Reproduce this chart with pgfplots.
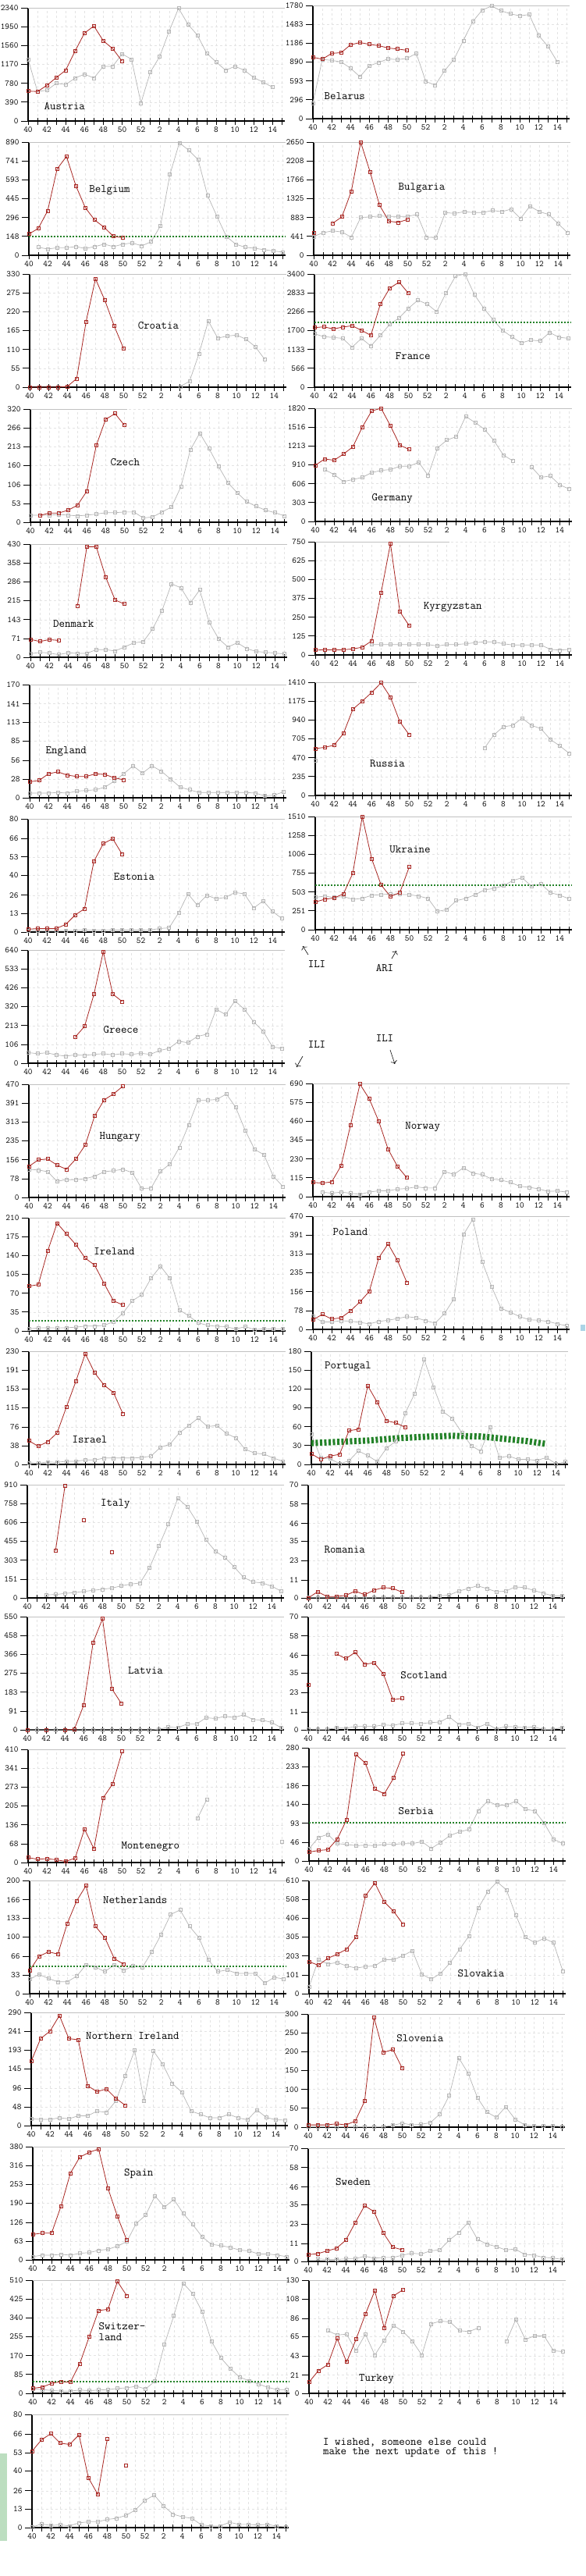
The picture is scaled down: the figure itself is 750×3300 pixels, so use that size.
\documentclass[border=0pt]{standalone}
\usepackage{pgfplots}
\pgfplotsset{compat=1.18}
\usetikzlibrary{arrows.meta}
\definecolor{curc}{RGB}{168,38,34}
\definecolor{prevc}{RGB}{182,182,182}
\definecolor{thrc}{RGB}{35,130,40}
\newcommand{\tickfont}{\fontsize{11}{11}\selectfont\ttfamily}
\newcommand{\labfont}{\fontsize{14.5}{14}\selectfont\ttfamily}
\pgfplotsset{
 pan/.style={
  scale only axis, width=329pt, height=145pt, anchor=north west,
  xmin=0, xmax=27.3, ymin=0,
  axis lines=left, axis line style={-, line width=1.1pt, black},
  xtick={0,2,...,26}, xticklabels={40,42,44,46,48,50,52,2,4,6,8,10,12,14},
  minor xtick={1,3,...,27},
  xtick align=center, ytick align=outside,
  major tick length=9pt, minor tick length=9pt,
  tick style={black, line width=0.9pt},
  xmajorgrids, xminorgrids, ymajorgrids,
  major grid style={gray!22, dash pattern=on 3pt off 3pt, line width=0.5pt},
  minor grid style={gray!22, dash pattern=on 3pt off 3pt, line width=0.5pt},
  clip=false, scaled y ticks=false, unbounded coords=jump,
  /pgf/number format/1000 sep={},
  /pgf/number format/assume math mode=true,
  tick label style={font=\tickfont},
 },
 cur/.style={curc, line width=0.8pt, mark=square, mark size=2pt, mark options={solid, line width=0.8pt}},
 prev/.style={prevc, line width=0.7pt, mark=square, mark size=2pt, mark options={solid, line width=0.6pt}},
 thr/.style={thrc, no marks, line width=1.8pt, dash pattern=on 1.6pt off 2.4pt},
 band/.style={thrc, no marks, line width=8pt, dash pattern=on 3pt off 2.5pt},
}
\tikzset{lab/.style={anchor=west, font=\labfont, inner sep=0pt},
 topl/.style={prevc!85, line width=0.7pt}}
\newcommand{\topfull}{\draw[topl] (rel axis cs:0,1)--(rel axis cs:1,1);}
\begin{document}
\begin{tikzpicture}
\fill[white] (0pt,0pt) rectangle (750pt,-3300pt);
\path[use as bounding box] (0pt,0pt) rectangle (750pt,-3300pt);

% ---------- Row 1
\begin{axis}[pan,at={(36pt,-10pt)},ymax=2340,ytick={0,390,780,1170,1560,1950,2340}]
\topfull
\addplot[prev] coordinates {(0,1275)(1,610)(2,635)(3,780)(4,753)(5,888)(6,968)(7,888)(8,1130)(9,1130)(10,1388)(11,1275)(12,371)(13,1011)(14,1334)(15,1856)(16,2330)(17,2001)(18,1775)(19,1399)(20,1221)(21,1049)(22,1130)(23,1049)(24,898)(25,801)(26,699)};
\addplot[cur] coordinates {(0,619)(1,608)(2,737)(3,898)(4,1049)(5,1447)(6,1818)(7,1963)(8,1657)(9,1495)(10,1237)};
\node[lab] at (axis cs:1.7,300) {Austria};
\end{axis}
\begin{axis}[pan,at={(401pt,-7pt)},ymax=1780,ytick={0,296,593,890,1186,1483,1780}]
\topfull
\addplot[prev] coordinates {(0,245)(1,932)(2,916)(3,892)(4,794)(5,659)(6,831)(7,884)(8,940)(9,928)(10,948)(11,1026)(12,586)(13,526)(14,753)(15,932)(16,1229)(17,1527)(18,1707)(19,1771)(20,1697)(21,1649)(22,1617)(23,1637)(24,1311)(25,1136)(26,892)};
\addplot[cur] coordinates {(0,965)(1,936)(2,1026)(3,1038)(4,1161)(5,1197)(6,1169)(7,1148)(8,1111)(9,1095)(10,1075)};
\node[lab] at (axis cs:1.2,358) {Belarus};
\end{axis}

% ---------- Row 2
\begin{axis}[pan,at={(37pt,-182pt)},ymax=890,ytick={0,148,296,445,593,741,890}]
\topfull
\addplot[prev] coordinates {(1,63)(2,49)(3,59)(4,59)(5,68)(6,53)(7,68)(8,87)(9,68)(10,87)(11,97)(12,74)(13,106)(14,233)(15,635)(16,884)(17,826)(18,751)(19,470)(20,306)(21,148)(22,87)(23,63)(24,55)(25,44)(26,34)(27,25)};
\addplot[thr] coordinates {(0,145)(27.3,145)};
\addplot[cur] coordinates {(0,167)(1,211)(2,350)(3,678)(4,777)(5,546)(6,374)(7,277)(8,220)(9,148)(10,139)};
\node[lab] at (axis cs:6.4,510) {Belgium};
\end{axis}
\begin{axis}[pan,at={(402pt,-182pt)},ymax=2650,ytick={0,441,883,1325,1766,2208,2650}]
\topfull
\addplot[prev] coordinates {(0,441)(1,527)(2,573)(3,544)(4,424)(5,883)(6,900)(7,920)(8,910)(9,910)(10,910)(11,955)(12,424)(13,413)(14,1000)(15,980)(16,1020)(17,1000)(18,1000)(19,1050)(20,1020)(21,1080)(22,860)(23,1150)(24,1020)(25,955)(26,740)(27,527)};
\addplot[cur] coordinates {(0,527)(1,nan)(2,745)(3,900)(4,1495)(5,2650)(6,1949)(7,1173)(8,797)(9,769)(10,840)};
\node[lab] at (axis cs:9.0,1580) {Bulgaria};
\end{axis}

% ---------- Row 3
\begin{axis}[pan,at={(38pt,-351pt)},ymax=330,ytick={0,55,110,165,220,275,330}]
\topfull
\addplot[prev] coordinates {(16,2)(17,17)(18,97)(19,193)(20,143)(21,149)(22,152)(23,140)(24,118)(25,81)};
\addplot[cur] coordinates {(0,0)(1,0)(2,0)(3,0)(4,2)(5,25)(6,191)(7,316)(8,253)(9,178)(10,112)};
\node[lab] at (axis cs:11.5,180) {Croatia};
\end{axis}
\begin{axis}[pan,at={(403pt,-351pt)},ymax=3400,ytick={0,566,1133,1700,2266,2833,3400}]
\topfull
\addplot[prev] coordinates {(0,1603)(1,1518)(2,1493)(3,1467)(4,1200)(5,1467)(6,1235)(7,1556)(8,1886)(9,2080)(10,2371)(11,2614)(12,2493)(13,2266)(14,2833)(15,3335)(16,3400)(17,2784)(18,2371)(19,2024)(20,1708)(21,1510)(22,1330)(23,1415)(24,1390)(25,1644)(26,1500)(27,1467)};
\addplot[thr] coordinates {(0,1943)(27.3,1943)};
\addplot[cur] coordinates {(0,1789)(1,1813)(2,1749)(3,1805)(4,1846)(5,1708)(6,1556)(7,2493)(8,2971)(9,3157)(10,2817)};
\node[lab] at (axis cs:8.6,940) {France};
\end{axis}

% ---------- Row 4
\begin{axis}[pan,at={(39pt,-524pt)},ymax=320,ytick={0,53,106,160,213,266,320}]
\draw[topl] (axis cs:0,320)--(axis cs:10.3,320);
\addplot[prev] coordinates {(0,20)(1,20)(2,20)(3,22)(4,20)(5,18)(6,20)(7,23)(8,27)(9,27)(10,29)(11,29)(12,12)(13,15)(14,29)(15,43)(16,100)(17,204)(18,252)(19,208)(20,158)(21,112)(22,83)(23,58)(24,45)(25,34)(26,27)(27,18)};
\addplot[cur] coordinates {(1,19)(2,26)(3,26)(4,34)(5,48)(6,88)(7,217)(8,291)(9,307)(10,274)};
\node[lab] at (axis cs:8.5,170) {Czech};
\end{axis}
\begin{axis}[pan,at={(404pt,-523pt)},ymax=1820,ytick={0,303,606,910,1213,1516,1820}]
\topfull
\addplot[prev] coordinates {(1,834)(2,754)(3,642)(4,673)(5,709)(6,785)(7,821)(8,834)(9,888)(10,888)(11,953)(12,740)(13,1182)(14,1308)(15,1364)(16,1690)(17,1590)(18,1483)(19,1300)(20,1069)(21,975)(22,nan)(23,876)(24,709)(25,731)(26,588)(27,522)};
\addplot[cur] coordinates {(0,902)(1,1005)(2,984)(3,1083)(4,1200)(5,1516)(6,1777)(7,1820)(8,1537)(9,1226)(10,1157)};
\node[lab] at (axis cs:6.0,368) {Germany};
\end{axis}

% ---------- Row 5
\begin{axis}[pan,at={(39pt,-697pt)},ymax=430,ytick={0,71,143,215,286,358,430}]
\topfull
\addplot[prev] coordinates {(0,13)(1,19)(2,16)(3,10)(4,17)(5,15)(6,15)(7,29)(8,29)(9,24)(10,39)(11,55)(12,59)(13,108)(14,178)(15,279)(16,264)(17,206)(18,256)(19,133)(20,71)(21,39)(22,55)(23,33)(24,22)(25,19)(26,16)(27,13)};
\addplot[cur] coordinates {(0,68)(1,60)(2,67)(3,64)(4,nan)(5,196)(6,420)(7,420)(8,305)(9,218)(10,202)};
\node[lab] at (axis cs:2.4,128) {Denmark};
\end{axis}
\begin{axis}[pan,at={(404pt,-694pt)},ymax=750,ytick={0,125,250,375,500,625,750}]
\draw[topl] (axis cs:0,750)--(axis cs:14.3,750);
\addplot[prev] coordinates {(6,69)(7,69)(8,69)(9,69)(10,69)(11,69)(12,69)(13,59)(14,69)(15,69)(16,74)(17,81)(18,87)(19,87)(20,74)(21,66)(22,66)(23,66)(24,66)(25,37)(26,32)(27,37)};
\addplot[cur] coordinates {(0,32)(1,34)(2,34)(3,34)(4,40)(5,51)(6,93)(7,411)(8,738)(9,286)(10,193)};
\node[lab] at (axis cs:11.5,318) {Kyrgyzstan};
\end{axis}

% ---------- Row 6
\begin{axis}[pan,at={(38pt,-877pt)},ymax=170,ytick={0,28,56,85,113,141,170}]
\topfull
\addplot[prev] coordinates {(0,7)(1,7)(2,7)(3,8)(4,7)(5,10)(6,11)(7,12)(8,16)(9,25)(10,36)(11,48)(12,37)(13,48)(14,40)(15,28)(16,16)(17,12)(18,8)(19,8)(20,8)(21,8)(22,8)(23,8)(24,7)(25,3)(26,4)(27,9)};
\addplot[cur] coordinates {(0,24)(1,26)(2,36)(3,39)(4,34)(5,32)(6,32)(7,36)(8,35)(9,30)(10,27)};
\node[lab] at (axis cs:1.7,69) {England};
\end{axis}
\begin{axis}[pan,at={(404pt,-874pt)},ymax=1410,ytick={0,235,470,705,940,1175,1410}]
\draw[topl] (axis cs:0,1410)--(axis cs:10.8,1410);
\addplot[prev] coordinates {(0,439)};
\addplot[prev] coordinates {(18,590)(19,755)(20,856)(21,873)(22,963)(23,873)(24,832)(25,698)(26,618)(27,525)};
\addplot[cur] coordinates {(0,584)(1,599)(2,626)(3,772)(4,1074)(5,1175)(6,1283)(7,1403)(8,1224)(9,916)(10,755)};
\node[lab] at (axis cs:5.8,395) {Russia};
\end{axis}

% ---------- Row 7
\begin{axis}[pan,at={(36pt,-1049pt)},ymax=80,ytick={0,13,26,40,53,66,80}]
\topfull
\addplot[prev] coordinates {(0,1.2)(1,1.2)(2,1.2)(3,1.2)(4,1)(5,1.2)(6,1.4)(7,1.2)(8,1.2)(9,1.4)(10,1.4)(11,1.4)(12,1.4)(13,1.5)(14,2.5)(15,3)(16,13.5)(17,27)(18,19)(19,26)(20,23.5)(21,24.5)(22,28)(23,27)(24,17)(25,22)(26,14.5)(27,9.5)};
\addplot[cur] coordinates {(0,2)(1,2.5)(2,2.5)(3,2.5)(4,5.4)(5,12)(6,16.5)(7,50)(8,62.5)(9,66)(10,55)};
\node[lab] at (axis cs:9.1,39) {Estonia};
\end{axis}
\begin{axis}[pan,at={(404pt,-1046pt)},ymax=1510,ytick={0,251,503,755,1006,1258,1510}]
\topfull
\addplot[prev] coordinates {(0,431)(1,449)(2,431)(3,442)(4,406)(5,417)(6,460)(7,467)(8,478)(9,471)(10,467)(11,449)(12,417)(13,244)(14,269)(15,388)(16,417)(17,467)(18,532)(19,550)(20,586)(21,655)(22,694)(23,579)(24,611)(25,496)(26,460)(27,413)};
\addplot[thr] coordinates {(0,591)(27.3,591)};
\addplot[cur] coordinates {(0,370)(1,406)(2,424)(3,478)(4,755)(5,1510)(6,947)(7,598)(8,442)(9,496)(10,839)};
\node[lab] at (axis cs:7.9,1067) {Ukraine};
\end{axis}

% ---------- Row 8
\begin{axis}[pan,at={(36pt,-1217pt)},ymax=640,ytick={0,106,213,320,426,533,640}]
\topfull
\addplot[prev] coordinates {(0,60)(1,54)(2,59)(3,47)(4,40)(5,47)(6,44)(7,50)(8,54)(9,47)(10,54)(11,50)(12,56)(13,50)(14,72)(15,84)(16,124)(17,116)(18,151)(19,164)(20,305)(21,275)(22,352)(23,305)(24,233)(25,180)(26,92)(27,84)};
\addplot[cur] coordinates {(5,147)(6,208)(7,389)(8,631)(9,391)(10,349)};
\node[lab] at (axis cs:8.0,190) {Greece};
\end{axis}
\node[font=\labfont] at (406pt,-1235pt) {ILI};
\draw[-{To[length=4pt]}, line width=0.6pt] (395pt,-1223pt) -- (388pt,-1212pt);
\node[font=\labfont] at (493pt,-1240pt) {ARI};
\draw[-{To[length=4pt]}, line width=0.6pt] (502pt,-1228pt) -- (508pt,-1218pt);
\node[font=\labfont] at (406pt,-1338pt) {ILI};
\draw[-{To[length=4pt]}, line width=0.6pt] (388pt,-1353pt) -- (380pt,-1367pt);
\node[font=\labfont] at (493pt,-1330pt) {ILI};
\draw[-{To[length=4pt]}, line width=0.6pt] (500pt,-1345pt) -- (506pt,-1363pt);

% ---------- Row 9
\begin{axis}[pan,at={(37pt,-1389pt)},ymax=470,ytick={0,78,156,235,313,391,470}]
\topfull
\addplot[prev] coordinates {(0,117)(1,114)(2,107)(3,67)(4,74)(5,74)(6,78)(7,88)(8,107)(9,111)(10,117)(11,103)(12,37)(13,39)(14,108)(15,139)(16,208)(17,302)(18,404)(19,404)(20,407)(21,430)(22,374)(23,279)(24,200)(25,177)(26,88)(27,46)};
\addplot[cur] coordinates {(0,129)(1,156)(2,160)(3,134)(4,117)(5,160)(6,218)(7,339)(8,405)(9,430)(10,462)};
\node[lab] at (axis cs:7.5,251) {Hungary};
\end{axis}
\begin{axis}[pan,at={(401pt,-1388pt)},ymax=690,ytick={0,115,230,345,460,575,690}]
\topfull
\addplot[prev] coordinates {(1,28)(2,21)(3,28)(4,21)(5,14)(6,28)(7,36)(8,36)(9,46)(10,50)(11,60)(12,53)(13,53)(14,153)(15,136)(16,176)(17,143)(18,135)(19,108)(20,101)(21,87)(22,64)(23,57)(24,48)(25,32)(26,35)(27,28)};
\addplot[cur] coordinates {(0,87)(1,83)(2,90)(3,189)(4,436)(5,686)(6,596)(7,460)(8,289)(9,184)(10,115)};
\node[lab] at (axis cs:9.8,425) {Norway};
\end{axis}

% ---------- Row 10
\begin{axis}[pan,at={(37pt,-1560pt)},ymax=210,ytick={0,35,70,105,140,175,210}]
\topfull
\addplot[prev] coordinates {(0,4)(1,5.5)(2,6)(3,5.5)(4,6)(5,7)(6,9)(7,9)(8,10.5)(9,17)(10,33)(11,56)(12,67)(13,98)(14,120)(15,98)(16,39)(17,28)(18,15)(19,10.5)(20,8.5)(21,8)(22,3.5)(23,8)(24,2.5)(25,4)(26,3.5)(27,3.5)};
\addplot[thr] coordinates {(0,19.4)(27.3,19.4)};
\addplot[cur] coordinates {(0,83)(1,86)(2,148)(3,200)(4,180)(5,160)(6,135)(7,122)(8,88)(9,56)(10,48)};
\node[lab] at (axis cs:6.9,147) {Ireland};
\end{axis}
\begin{axis}[pan,at={(401pt,-1558pt)},ymax=470,ytick={0,78,156,235,313,391,470}]
\topfull
\addplot[prev] coordinates {(0,55)(1,31)(2,31)(3,36)(4,34)(5,29)(6,23)(7,33)(8,38)(9,45)(10,53)(11,48)(12,36)(13,26)(14,66)(15,127)(16,393)(17,457)(18,281)(19,178)(20,88)(21,71)(22,53)(23,40)(24,38)(25,33)(26,23)(27,15)};
\addplot[cur] coordinates {(0,40)(1,62)(2,43)(3,48)(4,77)(5,114)(6,158)(7,297)(8,355)(9,286)(10,194)};
\node[lab] at (axis cs:2.1,404) {Poland};
\end{axis}

% ---------- Row 11
\begin{axis}[pan,at={(37pt,-1731pt)},ymax=230,ytick={0,38,76,115,153,191,230}]
\topfull
\addplot[prev] coordinates {(0,3.5)(1,2.6)(2,5)(3,4.3)(4,6.5)(5,6.5)(6,9)(7,9)(8,13)(9,13)(10,13)(11,13)(12,14)(13,17)(14,35)(15,41)(16,64)(17,79)(18,94)(19,77)(20,79)(21,63)(22,54)(23,31)(24,23)(25,21)(26,13)(27,6.5)};
\addplot[cur] coordinates {(0,48)(1,37)(2,46)(3,64)(4,117)(5,169)(6,225)(7,186)(8,161)(9,146)(10,103)};
\node[lab] at (axis cs:4.6,51) {Israel};
\end{axis}
\begin{axis}[pan,at={(399pt,-1731pt)},ymax=180,ytick={0,30,60,90,120,150,180}]
\topfull
\addplot[prev] coordinates {(0,48)(1,11)(2,9)(3,1)(4,5.6)(5,21.5)(6,14)(7,4.6)(8,26)(9,37)(10,82)(11,113)(12,167)(13,123)(14,84)(15,73)(16,50.6)(17,30)(18,21)(19,59)(20,10.6)(21,13.4)(22,8)(23,8)(24,6.4)(25,11)(26,1)(27,4)};
\addplot[band] coordinates {(0,34)(3,36)(6,38)(9,41.5)(12,44)(15,45.5)(18,44.5)(21,40)(23,37)(25,32.5)};
\addplot[cur] coordinates {(0,17)(1,8)(2,13.4)(3,16)(4,53.6)(5,56)(6,125)(7,99)(8,69.5)(9,66)(10,59)};
\node[lab] at (axis cs:1.4,156) {Portugal};
\end{axis}

% ---------- Row 12
\begin{axis}[pan,at={(35pt,-1902pt)},ymax=910,ytick={0,151,303,455,606,758,910}]
\topfull
\addplot[prev] coordinates {(2,25)(3,27)(4,36)(5,43)(6,52)(7,61)(8,70)(9,79)(10,97)(11,111)(12,120)(13,244)(14,418)(15,596)(16,800)(17,735)(18,616)(19,466)(20,375)(21,326)(22,249)(23,165)(24,128)(25,120)(26,94)(27,54)};
\addplot[cur] coordinates {(3,379)(4,900)(5,nan)(6,627)(7,nan)(8,nan)(9,365)};
\node[lab] at (axis cs:7.8,755) {Italy};
\end{axis}
\begin{axis}[pan,at={(395pt,-1902pt)},ymax=70,ytick={0,11,23,35,46,58,70}]
\topfull
\addplot[prev] coordinates {(0,0.4)(1,0.4)(2,0.4)(3,0.4)(4,0.4)(5,0.4)(6,0.4)(7,0.4)(8,0.4)(9,0.4)(10,0.4)(11,0.4)(12,0.4)(13,0.4)(14,1.3)(15,1.8)(16,4.2)(17,5.8)(18,7.5)(19,5.8)(20,3.8)(21,4.2)(22,6.8)(23,6.4)(24,4.6)(25,2.9)(26,1.3)(27,1.3)};
\addplot[cur] coordinates {(0,0)(1,3.8)(2,0.9)(3,0.9)(4,1.6)(5,4.2)(6,2)(7,4.8)(8,6.4)(9,5.9)(10,3.5)};
\node[lab] at (axis cs:1.7,30) {Romania};
\end{axis}

% ---------- Row 13
\begin{axis}[pan,at={(35pt,-2071pt)},ymax=550,ytick={0,91,183,275,366,458,550}]
\topfull
\addplot[prev] coordinates {(0,0)(1,0)(2,0)(3,0)(4,0)(5,0)(6,0)(7,0)(8,0)(9,0)(10,0)(11,0)(12,0)(13,0)(14,3)(15,13)(16,11)(17,28)(18,28)(19,59)(20,55)(21,66)(22,60)(23,73)(24,50)(25,47)(26,36)(27,10)};
\addplot[cur] coordinates {(0,0)(1,nan)(2,0)(3,nan)(4,0)(5,3)(6,120)(7,425)(8,540)(9,199)(10,128)};
\node[lab] at (axis cs:10.7,289) {Latvia};
\end{axis}
\begin{axis}[pan,at={(395pt,-2071pt)},ymax=70,ytick={0,11,23,35,46,58,70}]
\topfull
\addplot[prev] coordinates {(0,0.5)(1,0.3)(2,0.3)(3,1.2)(4,1)(5,2.1)(6,2.1)(7,2.1)(8,3.1)(9,2.7)(10,4)(11,4)(12,3.8)(13,4.5)(14,4.8)(15,8)(16,3.4)(17,3.8)(18,1.4)(19,3.8)(20,0.5)(21,2.1)(22,1.8)(23,1.4)(24,1.8)(25,0.3)(26,0.3)(27,1.4)};
\addplot[cur] coordinates {(0,27.8)(1,nan)(2,nan)(3,47)(4,44)(5,48)(6,40.5)(7,41.5)(8,34.5)(9,18.6)(10,19.5)};
\node[lab] at (axis cs:9.8,33.7) {Scotland};
\end{axis}

% ---------- Row 14
\begin{axis}[pan,at={(36pt,-2241pt)},ymax=410,ytick={0,68,136,205,273,341,410}]
\draw[topl] (axis cs:0,410)--(axis cs:13,410);
\addplot[prev] coordinates {(18,159)(19,228)};
\addplot[prev] coordinates {(27,76)};
\addplot[cur] coordinates {(0,18)(1,12)(2,14)(3,10)(4,4)(5,16)(6,121)(7,50)(8,235)(9,285)(10,402)};
\node[lab] at (axis cs:9.9,58) {Montenegro};
\end{axis}
\begin{axis}[pan,at={(396pt,-2239pt)},ymax=280,ytick={0,46,93,140,186,233,280}]
\topfull
\addplot[prev] coordinates {(0,30)(1,58)(2,66)(3,43)(4,41)(5,38)(6,39)(7,38)(8,41)(9,41)(10,43)(11,43)(12,48)(13,31)(14,46)(15,63)(16,72)(17,78)(18,124)(19,148)(20,138)(21,138)(22,148)(23,128)(24,124)(25,94)(26,54)(27,43)};
\addplot[thr] coordinates {(0,95)(27.3,95)};
\addplot[cur] coordinates {(0,22)(1,26)(2,28)(3,54)(4,102)(5,263)(6,242)(7,178)(8,166)(9,205)(10,265)};
\node[lab] at (axis cs:9.5,123) {Serbia};
\end{axis}

% ---------- Row 15
\begin{axis}[pan,at={(38pt,-2409pt)},ymax=200,ytick={0,33,66,100,133,166,200}]
\topfull
\addplot[prev] coordinates {(0,25.5)(1,34)(2,27)(3,21)(4,21)(5,31)(6,51)(7,47)(8,39)(9,51)(10,41)(11,49)(12,47)(13,74)(14,105)(15,140)(16,148)(17,119)(18,99)(19,60)(20,39)(21,42)(22,36)(23,36)(24,36)(25,18.5)(26,29)(27,26)};
\addplot[thr] coordinates {(0,48)(27.3,48)};
\addplot[cur] coordinates {(0,41)(1,66)(2,74)(3,70)(4,124)(5,164)(6,191)(7,119)(8,99)(9,62)(10,52)};
\node[lab] at (axis cs:7.8,166) {Netherlands};
\end{axis}
\begin{axis}[pan,at={(396pt,-2409pt)},ymax=610,ytick={0,101,203,305,406,508,610}]
\topfull
\addplot[prev] coordinates {(0,36)(1,183)(2,160)(3,168)(4,150)(5,138)(6,146)(7,150)(8,183)(9,183)(10,205)(11,232)(12,105)(13,78)(14,110)(15,166)(16,238)(17,310)(18,461)(19,549)(20,603)(21,559)(22,422)(23,305)(24,275)(25,298)(26,275)(27,120)};
\addplot[cur] coordinates {(0,173)(1,153)(2,191)(3,213)(4,240)(5,305)(6,527)(7,597)(8,495)(9,444)(10,374)};
\node[lab] at (axis cs:15.8,108) {Slovakia};
\end{axis}

% ---------- Row 16
\begin{axis}[pan,at={(40pt,-2578pt)},ymax=290,ytick={0,48,96,145,193,241,290}]
\topfull
\addplot[prev] coordinates {(0,17.5)(1,16)(2,16)(3,20)(4,17.5)(5,25)(6,25)(7,37)(8,34)(9,63)(10,128)(11,193)(12,63)(13,191)(14,157)(15,108)(16,86)(17,37)(18,29)(19,20)(20,20)(21,29)(22,20)(23,15)(24,40)(25,21)(26,15)(27,14)};
\addplot[cur] coordinates {(0,165)(1,223)(2,242)(3,282)(4,223)(5,220)(6,102)(7,87)(8,94)(9,70)(10,52)};
\node[lab] at (axis cs:5.8,229) {Northern Ireland};
\end{axis}
\begin{axis}[pan,at={(395pt,-2580pt)},ymax=300,ytick={0,50,100,150,200,250,300}]
\topfull
\addplot[prev] coordinates {(0,1)(1,1)(2,1)(3,1)(4,1)(5,1)(6,1)(7,1)(8,1)(9,5)(10,10.6)(11,6)(12,7.6)(13,12)(14,35)(15,84)(16,184)(17,143)(18,78)(19,40)(20,26)(21,54)(22,21)(23,6.5)(24,3.5)(25,3)(26,3)(27,2)};
\addplot[cur] coordinates {(0,6)(1,6)(2,6)(3,9)(4,6)(5,16)(6,69)(7,290)(8,198)(9,206)(10,156)};
\node[lab] at (axis cs:9.4,236) {Slovenia};
\end{axis}

% ---------- Row 17
\begin{axis}[pan,at={(42pt,-2750pt)},ymax=380,ytick={0,63,126,190,253,316,380}]
\topfull
\addplot[prev] coordinates {(0,11)(1,16)(2,16)(3,18.5)(4,16)(5,22)(6,24.5)(7,32)(8,35.6)(9,46)(10,61.5)(11,122)(12,150)(13,215)(14,177)(15,203)(16,156)(17,119)(18,78)(19,52)(20,48)(21,42)(22,33)(23,30)(24,20)(25,20)(26,16)(27,11)};
\addplot[cur] coordinates {(0,85.5)(1,90)(2,90)(3,180)(4,291)(5,345)(6,361)(7,372)(8,240)(9,146)(10,66)};
\node[lab] at (axis cs:9.7,290) {Spain};
\end{axis}
\begin{axis}[pan,at={(395pt,-2752pt)},ymax=70,ytick={0,11,23,35,46,58,70}]
\topfull
\addplot[prev] coordinates {(1,1.6)(2,1.2)(3,1.2)(4,1.6)(5,1.6)(6,3.3)(7,2)(8,2.5)(9,2.5)(10,3.8)(11,5.1)(12,4.6)(13,6.5)(14,7.2)(15,13.2)(16,17.8)(17,24)(18,13.7)(19,10.7)(20,9.2)(21,7.1)(22,7.7)(23,4.4)(24,3.9)(25,2.5)(26,2.2)(27,1.2)};
\addplot[cur] coordinates {(0,4.2)(1,4.8)(2,6.5)(3,8.1)(4,13.2)(5,24)(6,34.5)(7,30.8)(8,17.5)(9,8.8)(10,7.2)};
\node[lab] at (axis cs:2.9,49.4) {Sweden};
\end{axis}

% ---------- Row 18
\begin{axis}[pan,at={(42pt,-2921pt)},ymax=510,ytick={0,85,170,255,340,425,510}]
\topfull
\addplot[prev] coordinates {(0,20)(1,17)(2,13)(3,10)(4,10)(5,15)(6,12)(7,15)(8,17)(9,22)(10,25)(11,32)(12,20)(13,55)(14,220)(15,350)(16,496)(17,450)(18,369)(19,235)(20,160)(21,112)(22,73)(23,57)(24,42)(25,27)(26,17)(27,17)};
\addplot[thr] coordinates {(0,52)(27.3,52)};
\addplot[cur] coordinates {(0,23)(1,28)(2,45)(3,53)(4,50)(5,134)(6,255)(7,373)(8,379)(9,504)(10,440)};
\node[lab, align=left] at (axis cs:7.0,279) {Switzer-\\land};
\end{axis}
\begin{axis}[pan,at={(396pt,-2921pt)},ymax=130,ytick={0,21,43,65,86,108,130}]
\topfull
\addplot[prev] coordinates {(2,72)(3,67)(4,68)(5,49)(6,68)(7,44)(8,61)(9,78)(10,71)(11,60)(12,44)(13,80)(14,83)(15,82)(16,72)(17,71)(18,75)(19,nan)(20,nan)(21,60)(22,85)(23,62)(24,66)(25,66)(26,49)(27,48)};
\addplot[cur] coordinates {(0,13)(1,26)(2,33)(3,63)(4,36)(5,62)(6,91)(7,118)(8,75)(9,112)(10,119)};
\node[lab] at (axis cs:5.3,16.8) {Turkey};
\end{axis}

% ---------- Row 19
\begin{axis}[pan,at={(41pt,-3093pt)},ymax=80,ytick={0,13,26,40,53,66,80}]
\topfull
\addplot[prev] coordinates {(0,0.3)(1,2.6)(2,1.5)(3,2)(4,1.2)(5,3.4)(6,4.1)(7,4.1)(8,5.8)(9,6.6)(10,8.7)(11,12.5)(12,19.2)(13,23)(14,15.3)(15,9.5)(16,7.6)(17,6.6)(18,2)(19,1.2)(20,1.1)(21,3.8)(22,2.3)(23,2.3)(24,1.8)(25,2.3)(26,1.1)(27,0.5)};
\addplot[cur] coordinates {(0,54)(1,62)(2,66.4)(3,59.7)(4,58.8)(5,65.6)(6,35.2)(7,23.5)(8,62.6)(9,nan)(10,44)};
\end{axis}
\node[font=\labfont, anchor=west, inner sep=0pt] at (414pt,-3129pt) {I wished, someone else could};
\node[font=\labfont, anchor=west, inner sep=0pt] at (414pt,-3142pt) {make the next update of this !};

% stray marks of the original page
\fill[fill={rgb,255:red,188;green,222;blue,192}] (0pt,-3143pt) rectangle (9pt,-3255pt);
\fill[fill={rgb,255:red,172;green,212;blue,230}] (744pt,-1697pt) rectangle (750pt,-1705pt);
\end{tikzpicture}
\end{document}
